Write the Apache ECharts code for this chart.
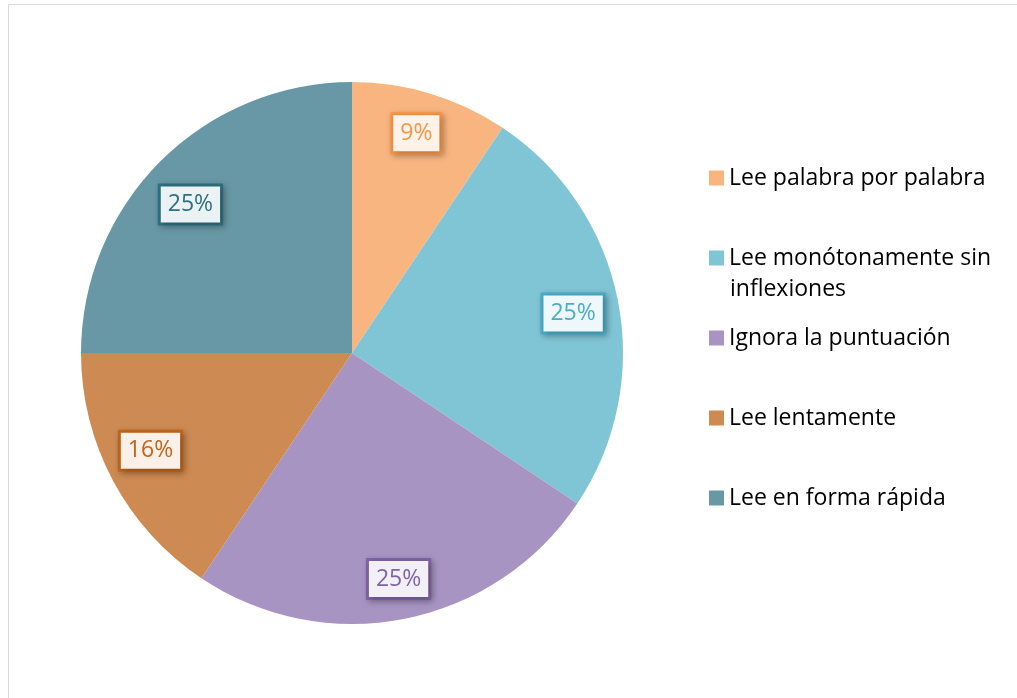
<!DOCTYPE html>
<html>
  <head>
    <meta charset="utf-8">
    <title>Lectura</title>
    <script src="https://cdn.jsdelivr.net/npm/echarts@6/dist/echarts.min.js"></script>
    <style>
      html, body { margin: 0; padding: 0; background: #fff; }
    </style>
  </head>
  <body>
    <div id="main" style="width:1017px;height:698px;"></div>
    <script>
// datos
var categorias = ['Lee palabra por palabra', 'Lee monótonamente sin inflexiones', 'Ignora la puntuación', 'Lee lentamente', 'Lee en forma rápida'];
var valores = [6, 16, 16, 10, 16];
var etiquetas = ['9%', '25%', '25%', '16%', '25%'];

var colores = ['#F9B580', '#80C5D6', '#A794C3', '#CD8A52', '#6898A5'];
var bordes = ['#F79646', '#4BACC6', '#8064A2', '#C0651B', '#2F6F80'];
var fondos = ['#FEF3EA', '#EEF7FA', '#F2EFF6', '#FAF0E8', '#EBF2F4'];
// pequeños ajustes de posicion de las etiquetas (como en Excel)
var desplaz = [[-2, -1], [-3, 5], [2, 2], [0, -10], [0, 13]];

var myChart = echarts.init(document.getElementById('main'));

var base = [], rotulos = [];
for (var i = 0; i < categorias.length; i++) {
    base.push({ name: categorias[i], value: valores[i], itemStyle: { color: colores[i] } });
    rotulos.push({
        name: categorias[i], value: valores[i],
        label: {
            formatter: etiquetas[i],
            color: bordes[i],
            backgroundColor: fondos[i],
            borderColor: bordes[i],
            offset: desplaz[i]
        }
    });
}

myChart.setOption({
    animation: false,
    graphic: [{
        type: 'rect',
        shape: { x: 8.5, y: 4.5, width: 1100, height: 800 },
        style: { fill: 'none', stroke: '#d9d9d9', lineWidth: 1 },
        silent: true
    }, {
        type: 'text',
        left: 730, top: 278,
        style: { text: 'inflexiones', font: '23px "Open Sans"', fill: '#000' }
    }],
    legend: {
        orient: 'vertical',
        left: 709,
        top: 163,
        padding: 0,
        itemWidth: 15,
        itemHeight: 15,
        itemGap: 50,
        icon: 'rect',
        selectedMode: false,
        data: categorias,
        formatter: function (n) {
            return n === 'Lee monótonamente sin inflexiones' ? 'Lee monótonamente sin' : n;
        },
        textStyle: {
            fontFamily: 'Open Sans',
            fontSize: 23,
            color: '#000',
            lineHeight: 30
        }
    },
    series: [{
        type: 'pie',
        center: [352, 353],
        radius: [0, 271],
        startAngle: 90,
        clockwise: true,
        silent: true,
        label: { show: false },
        labelLine: { show: false },
        data: base
    }, {
        type: 'pie',
        center: [352, 353],
        radius: [180, 271],
        startAngle: 90,
        clockwise: true,
        silent: true,
        itemStyle: { color: 'rgba(0,0,0,0)' },
        labelLine: { show: false },
        label: {
            show: true,
            position: 'inside',
            fontFamily: 'Open Sans',
            fontSize: 23,
            lineHeight: 26,
            borderWidth: 3,
            padding: [6, 7, 4, 7],
            shadowColor: 'rgba(0,0,0,0.25)',
            shadowBlur: 6,
            shadowOffsetX: 2,
            shadowOffsetY: 2
        },
        data: rotulos
    }]
});
    </script>
  </body>
</html>
